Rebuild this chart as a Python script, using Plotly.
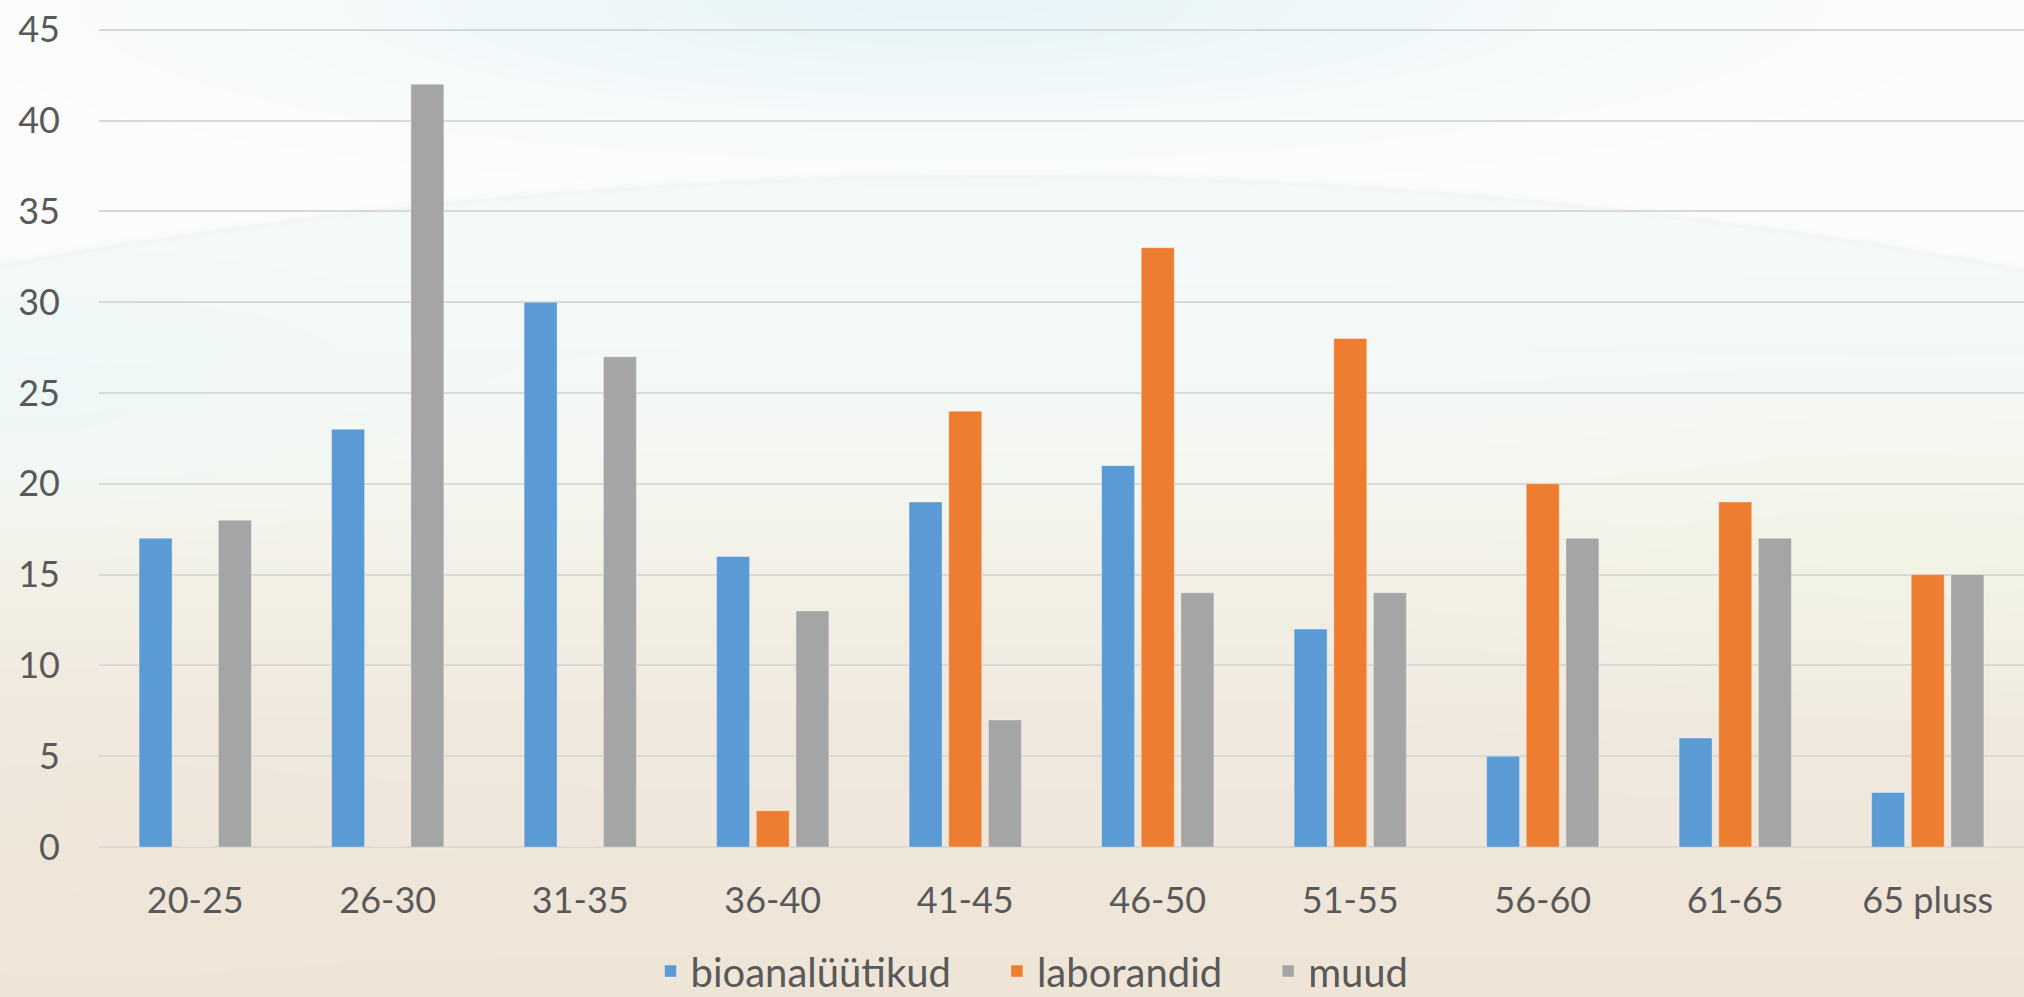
import base64
import struct
import zlib

import numpy as np
import plotly.graph_objects as go

# Age groups and head counts per staff group
age_groups = ["20-25", "26-30", "31-35", "36-40", "41-45",
              "46-50", "51-55", "56-60", "61-65", "65 pluss"]
bioanaluutikud = [17, 23, 30, 16, 19, 21, 12, 5, 6, 3]
laborandid = [0, 0, 0, 2, 24, 33, 28, 20, 19, 15]
muud = [18, 42, 27, 13, 7, 14, 14, 17, 17, 15]

series_names = ["bioanalüütikud", "laborandid", "muud"]
series_colors = ["#5B9BD5", "#ED7D31", "#A5A5A5"]

PAGE_W, PAGE_H = 2024, 997
Y_MAX = 45.1                      # a hair above 45 so the top gridline is drawn
PX_PER_UNIT = 817 / 45
PLOT_H = round(Y_MAX * PX_PER_UNIT)
M_L, M_R, M_B = 99, 0, 150
M_T = PAGE_H - M_B - PLOT_H
PLOT_W = PAGE_W - M_L - M_R
LEGEND_PAD = "\u00a0" * 4         # extra room between legend entries


def png_data_uri(rgb):
    """Encode an (h, w, 3) uint8 array as a PNG data URI (Up filter)."""
    h, w, _ = rgb.shape
    a = rgb.astype(np.int16)
    up = np.empty_like(a)
    up[0] = a[0]
    up[1:] = (a[1:] - a[:-1]) % 256
    rows = np.concatenate(
        [np.full((h, 1), 2, np.uint8), up.astype(np.uint8).reshape(h, w * 3)], axis=1)

    def chunk(tag, data):
        return (struct.pack(">I", len(data)) + tag + data
                + struct.pack(">I", zlib.crc32(tag + data) & 0xFFFFFFFF))

    png = (b"\x89PNG\r\n\x1a\n"
           + chunk(b"IHDR", struct.pack(">IIBBBBB", w, h, 8, 2, 0, 0, 0))
           + chunk(b"IDAT", zlib.compress(rows.tobytes(), 9))
           + chunk(b"IEND", b""))
    return "data:image/png;base64," + base64.b64encode(png).decode()


def backdrop():
    """Soft sky-to-sand gradient with a faint horizon arc."""
    w, h = PAGE_W // 2, PAGE_H // 2
    X, Y = np.meshgrid(np.linspace(0, PAGE_W, w), np.linspace(0, PAGE_H, h))

    stops_y = [150, 350, 470, 570, 720, 997]
    stops_c = [(245, 250, 251), (244, 249, 248), (245, 247, 241),
               (243, 241, 231), (240, 233, 222), (239, 229, 215)]
    lower = np.stack([np.interp(Y, stops_y, [c[i] for c in stops_c]) for i in range(3)], -1)
    upper = np.ones_like(lower) * np.array([252, 253, 252])

    arc = 175 + 9e-5 * (X - 1000) ** 2
    d = Y - arc
    t = np.clip((d + 6) / 12, 0, 1)[..., None]
    img = upper * (1 - t) + lower * t

    def blend(cx, cy, sx, sy, col, wgt):
        nonlocal img
        k = (wgt * np.exp(-((X - cx) / sx) ** 2 - ((Y - cy) / sy) ** 2))[..., None]
        img = img * (1 - k) + np.array(col) * k

    blend(950, 0, 600, 110, (226, 242, 247), 0.75)
    blend(40, 400, 260, 100, (236, 248, 249), 0.6)
    blend(1900, 560, 300, 130, (243, 245, 230), 0.5)
    blend(100, 920, 260, 160, (241, 230, 217), 0.4)

    line = np.exp(-((d - 1) ** 2) / 5)[..., None]
    img = img - line * np.array([4, 5, 5])
    return np.clip(img, 0, 255).astype(np.uint8)


fig = go.Figure()
series_values = [bioanaluutikud, laborandid, muud]
for i, (name, vals, col) in enumerate(zip(series_names, series_values, series_colors)):
    label = name + (LEGEND_PAD if i < len(series_names) - 1 else "")
    fig.add_trace(go.Bar(
        name=label, x=age_groups, y=vals,
        marker=dict(color=col, line=dict(color="rgba(255,255,255,0.35)", width=1)),
        hovertemplate=name + "<br>%{x}: %{y}<extra></extra>",
    ))

text_col = "#595959"
grid_col = "#D9D9D9"

fig.update_layout(
    width=PAGE_W, height=PAGE_H,
    margin=dict(l=M_L, r=M_R, t=M_T, b=M_B, pad=0, autoexpand=False),
    paper_bgcolor="#f4f2ec",
    plot_bgcolor="rgba(0,0,0,0)",
    barmode="group",
    bargap=0.382,
    bargroupgap=0.168,
    font=dict(family="Lato, sans-serif", color=text_col, size=36),
    showlegend=True,
    legend=dict(
        orientation="h",
        x=(1032 - M_L) / PLOT_W, xanchor="center",
        y=-(971 - (M_T + PLOT_H)) / PLOT_H, yanchor="middle",
        font=dict(family="Lato, sans-serif", size=40, color=text_col),
        bgcolor="rgba(0,0,0,0)",
        itemwidth=30,
        tracegroupgap=0,
    ),
    xaxis=dict(
        showgrid=False, showline=False, ticks="",
        tickfont=dict(size=36, color=text_col),
        ticklabelstandoff=29,
    ),
    yaxis=dict(
        range=[0, Y_MAX], tickvals=list(range(0, 50, 5)),
        showgrid=True, gridcolor=grid_col, gridwidth=2,
        zeroline=True, zerolinecolor=grid_col, zerolinewidth=2,
        showline=False, ticks="",
        tickfont=dict(size=36, color=text_col),
        ticklabelstandoff=38,
    ),
    images=[dict(
        source=png_data_uri(backdrop()),
        xref="paper", yref="paper",
        x=-M_L / PLOT_W, y=1 + M_T / PLOT_H,
        sizex=PAGE_W / PLOT_W, sizey=PAGE_H / PLOT_H,
        xanchor="left", yanchor="top",
        sizing="stretch", layer="below",
    )],
)

fig.write_html("out.html")
